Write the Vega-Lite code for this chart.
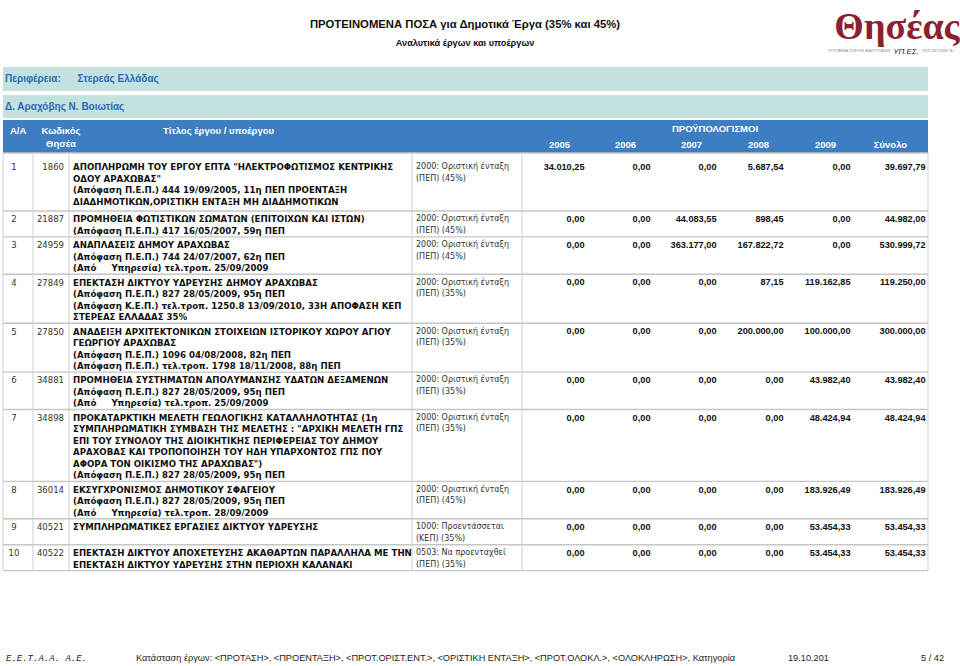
{
"$schema": "https://vega.github.io/schema/vega-lite/v6.json",
"width": 960, "height": 666, "padding": 0, "autosize": {"type": "none"},
"background": "#ffffff",
"config": {"view": {"stroke": null}, "locale": {"number": {"decimal": ",", "thousands": ".", "grouping": [3], "currency": ["", " €"]}}},
"datasets": {
 "bands": [
  {"band": "Περιφέρεια", "r": -5, "r2": -4},
  {"band": "Δήμος", "r": -3, "r2": -2},
  {"band": "Κεφαλίδα", "r": -1, "r2": 0}
 ],
 "bandText": [
  {"r": -5, "c": 0, "text": "Περιφέρεια:\u00a0\u00a0\u00a0\u00a0\u00a0\u00a0Στερεάς Ελλάδας"},
  {"r": -3, "c": 0, "text": "Δ. Αραχόβης Ν. Βοιωτίας"}
 ],
 "head": [
  {"r": -1, "c": 0, "text": "Α/Α"},
  {"r": -1, "c": 1, "text": "Κωδικός\nΘησέα"},
  {"r": -1, "c": 2, "text": "Τίτλος έργου / υποέργου"},
  {"r": -1, "c": 7, "text": "ΠΡΟΫΠΟΛΟΓΙΣΜΟΙ"},
  {"r": 0, "c": 4, "text": "2005"},
  {"r": 0, "c": 5, "text": "2006"},
  {"r": 0, "c": 6, "text": "2007"},
  {"r": 0, "c": 7, "text": "2008"},
  {"r": 0, "c": 8, "text": "2009"},
  {"r": 0, "c": 9, "text": "Σύνολο"}
 ],
 "cells": [
  {"r": 1, "c": 0, "text": "1"},
  {"r": 1, "c": 1, "text": "1860"},
  {"r": 1, "c": 2, "text": "ΑΠΟΠΛΗΡΩΜΗ ΤΟΥ ΕΡΓΟΥ ΕΠΤΑ \"ΗΛΕΚΤΡΟΦΩΤΙΣΜΟΣ ΚΕΝΤΡΙΚΗΣ\nΟΔΟΥ ΑΡΑΧΩΒΑΣ\"\n(Απόφαση Π.Ε.Π.) 444 19/09/2005, 11η ΠΕΠ ΠΡΟΕΝΤΑΞΗ\nΔΙΑΔΗΜΟΤΙΚΩΝ,ΟΡΙΣΤΙΚΗ ΕΝΤΑΞΗ ΜΗ ΔΙΑΔΗΜΟΤΙΚΩΝ"},
  {"r": 1, "c": 3, "text": "2000: Οριστική ένταξη\n(ΠΕΠ) (45%)"},
  {"r": 2, "c": 0, "text": "2"},
  {"r": 2, "c": 1, "text": "21887"},
  {"r": 2, "c": 2, "text": "ΠΡΟΜΗΘΕΙΑ ΦΩΤΙΣΤΙΚΩΝ ΣΩΜΑΤΩΝ (ΕΠΙΤΟΙΧΩΝ ΚΑΙ ΙΣΤΩΝ)\n(Απόφαση Π.Ε.Π.) 417 16/05/2007, 59η ΠΕΠ"},
  {"r": 2, "c": 3, "text": "2000: Οριστική ένταξη\n(ΠΕΠ) (45%)"},
  {"r": 3, "c": 0, "text": "3"},
  {"r": 3, "c": 1, "text": "24959"},
  {"r": 3, "c": 2, "text": "ΑΝΑΠΛΑΣΕΙΣ ΔΗΜΟΥ ΑΡΑΧΩΒΑΣ\n(Απόφαση Π.Ε.Π.) 744 24/07/2007, 62η ΠΕΠ\n(Από\u00a0\u00a0\u00a0\u00a0\u00a0Υπηρεσία) τελ.τροπ. 25/09/2009"},
  {"r": 3, "c": 3, "text": "2000: Οριστική ένταξη\n(ΠΕΠ) (45%)"},
  {"r": 4, "c": 0, "text": "4"},
  {"r": 4, "c": 1, "text": "27849"},
  {"r": 4, "c": 2, "text": "ΕΠΕΚΤΑΣΗ ΔΙΚΤΥΟΥ ΥΔΡΕΥΣΗΣ ΔΗΜΟΥ ΑΡΑΧΩΒΑΣ\n(Απόφαση Π.Ε.Π.) 827 28/05/2009, 95η ΠΕΠ\n(Απόφαση Κ.Ε.Π.) τελ.τροπ. 1250.8 13/09/2010, 33Η ΑΠΟΦΑΣΗ ΚΕΠ\nΣΤΕΡΕΑΣ ΕΛΛΑΔΑΣ 35%"},
  {"r": 4, "c": 3, "text": "2000: Οριστική ένταξη\n(ΠΕΠ) (35%)"},
  {"r": 5, "c": 0, "text": "5"},
  {"r": 5, "c": 1, "text": "27850"},
  {"r": 5, "c": 2, "text": "ΑΝΑΔΕΙΞΗ ΑΡΧΙΤΕΚΤΟΝΙΚΩΝ ΣΤΟΙΧΕΙΩΝ ΙΣΤΟΡΙΚΟΥ ΧΩΡΟΥ ΑΓΙΟΥ\nΓΕΩΡΓΙΟΥ ΑΡΑΧΩΒΑΣ\n(Απόφαση Π.Ε.Π.) 1096 04/08/2008, 82η ΠΕΠ\n(Απόφαση Π.Ε.Π.) τελ.τροπ. 1798 18/11/2008, 88η ΠΕΠ"},
  {"r": 5, "c": 3, "text": "2000: Οριστική ένταξη\n(ΠΕΠ) (35%)"},
  {"r": 6, "c": 0, "text": "6"},
  {"r": 6, "c": 1, "text": "34881"},
  {"r": 6, "c": 2, "text": "ΠΡΟΜΗΘΕΙΑ ΣΥΣΤΗΜΑΤΩΝ ΑΠΟΛΥΜΑΝΣΗΣ ΥΔΑΤΩΝ ΔΕΞΑΜΕΝΩΝ\n(Απόφαση Π.Ε.Π.) 827 28/05/2009, 95η ΠΕΠ\n(Από\u00a0\u00a0\u00a0\u00a0\u00a0Υπηρεσία) τελ.τροπ. 25/09/2009"},
  {"r": 6, "c": 3, "text": "2000: Οριστική ένταξη\n(ΠΕΠ) (35%)"},
  {"r": 7, "c": 0, "text": "7"},
  {"r": 7, "c": 1, "text": "34898"},
  {"r": 7, "c": 2, "text": "ΠΡΟΚΑΤΑΡΚΤΙΚΗ ΜΕΛΕΤΗ ΓΕΩΛΟΓΙΚΗΣ ΚΑΤΑΛΛΗΛΟΤΗΤΑΣ (1η\nΣΥΜΠΛΗΡΩΜΑΤΙΚΗ ΣΥΜΒΑΣΗ ΤΗΣ ΜΕΛΕΤΗΣ : \"ΑΡΧΙΚΗ ΜΕΛΕΤΗ ΓΠΣ\nΕΠΙ ΤΟΥ ΣΥΝΟΛΟΥ ΤΗΣ ΔΙΟΙΚΗΤΙΚΗΣ ΠΕΡΙΦΕΡΕΙΑΣ ΤΟΥ ΔΗΜΟΥ\nΑΡΑΧΟΒΑΣ ΚΑΙ ΤΡΟΠΟΠΟΙΗΣΗ ΤΟΥ ΗΔΗ ΥΠΑΡΧΟΝΤΟΣ ΓΠΣ ΠΟΥ\nΑΦΟΡΑ ΤΟΝ ΟΙΚΙΣΜΟ ΤΗΣ ΑΡΑΧΩΒΑΣ\")\n(Απόφαση Π.Ε.Π.) 827 28/05/2009, 95η ΠΕΠ"},
  {"r": 7, "c": 3, "text": "2000: Οριστική ένταξη\n(ΠΕΠ) (35%)"},
  {"r": 8, "c": 0, "text": "8"},
  {"r": 8, "c": 1, "text": "36014"},
  {"r": 8, "c": 2, "text": "ΕΚΣΥΓΧΡΟΝΙΣΜΟΣ ΔΗΜΟΤΙΚΟΥ ΣΦΑΓΕΙΟΥ\n(Απόφαση Π.Ε.Π.) 827 28/05/2009, 95η ΠΕΠ\n(Από\u00a0\u00a0\u00a0\u00a0\u00a0Υπηρεσία) τελ.τροπ. 28/09/2009"},
  {"r": 8, "c": 3, "text": "2000: Οριστική ένταξη\n(ΠΕΠ) (45%)"},
  {"r": 9, "c": 0, "text": "9"},
  {"r": 9, "c": 1, "text": "40521"},
  {"r": 9, "c": 2, "text": "ΣΥΜΠΛΗΡΩΜΑΤΙΚΕΣ ΕΡΓΑΣΙΕΣ ΔΙΚΤΥΟΥ ΥΔΡΕΥΣΗΣ"},
  {"r": 9, "c": 3, "text": "1000: Προεντάσσεται\n(ΚΕΠ) (35%)"},
  {"r": 10, "c": 0, "text": "10"},
  {"r": 10, "c": 1, "text": "40522"},
  {"r": 10, "c": 2, "text": "\u00a0ΕΠΕΚΤΑΣΗ ΔΙΚΤΥΟΥ ΑΠΟΧΕΤΕΥΣΗΣ ΑΚΑΘΑΡΤΩΝ ΠΑΡΑΛΛΗΛΑ ΜΕ ΤΗΝ\nΕΠΕΚΤΑΣΗ ΔΙΚΤΥΟΥ ΥΔΡΕΥΣΗΣ ΣΤΗΝ ΠΕΡΙΟΧΗ ΚΑΛΑΝΑΚΙ"},
  {"r": 10, "c": 3, "text": "0503: Να προενταχθεί\n(ΠΕΠ) (35%)"}
 ],
 "amounts": [
  {"r": 1, "c": 4, "year": "2005", "v": 34010.25}, {"r": 1, "c": 5, "year": "2006", "v": 0}, {"r": 1, "c": 6, "year": "2007", "v": 0}, {"r": 1, "c": 7, "year": "2008", "v": 5687.54}, {"r": 1, "c": 8, "year": "2009", "v": 0}, {"r": 1, "c": 9, "year": "Σύνολο", "v": 39697.79},
  {"r": 2, "c": 4, "year": "2005", "v": 0}, {"r": 2, "c": 5, "year": "2006", "v": 0}, {"r": 2, "c": 6, "year": "2007", "v": 44083.55}, {"r": 2, "c": 7, "year": "2008", "v": 898.45}, {"r": 2, "c": 8, "year": "2009", "v": 0}, {"r": 2, "c": 9, "year": "Σύνολο", "v": 44982.00},
  {"r": 3, "c": 4, "year": "2005", "v": 0}, {"r": 3, "c": 5, "year": "2006", "v": 0}, {"r": 3, "c": 6, "year": "2007", "v": 363177.00}, {"r": 3, "c": 7, "year": "2008", "v": 167822.72}, {"r": 3, "c": 8, "year": "2009", "v": 0}, {"r": 3, "c": 9, "year": "Σύνολο", "v": 530999.72},
  {"r": 4, "c": 4, "year": "2005", "v": 0}, {"r": 4, "c": 5, "year": "2006", "v": 0}, {"r": 4, "c": 6, "year": "2007", "v": 0}, {"r": 4, "c": 7, "year": "2008", "v": 87.15}, {"r": 4, "c": 8, "year": "2009", "v": 119162.85}, {"r": 4, "c": 9, "year": "Σύνολο", "v": 119250.00},
  {"r": 5, "c": 4, "year": "2005", "v": 0}, {"r": 5, "c": 5, "year": "2006", "v": 0}, {"r": 5, "c": 6, "year": "2007", "v": 0}, {"r": 5, "c": 7, "year": "2008", "v": 200000.00}, {"r": 5, "c": 8, "year": "2009", "v": 100000.00}, {"r": 5, "c": 9, "year": "Σύνολο", "v": 300000.00},
  {"r": 6, "c": 4, "year": "2005", "v": 0}, {"r": 6, "c": 5, "year": "2006", "v": 0}, {"r": 6, "c": 6, "year": "2007", "v": 0}, {"r": 6, "c": 7, "year": "2008", "v": 0}, {"r": 6, "c": 8, "year": "2009", "v": 43982.40}, {"r": 6, "c": 9, "year": "Σύνολο", "v": 43982.40},
  {"r": 7, "c": 4, "year": "2005", "v": 0}, {"r": 7, "c": 5, "year": "2006", "v": 0}, {"r": 7, "c": 6, "year": "2007", "v": 0}, {"r": 7, "c": 7, "year": "2008", "v": 0}, {"r": 7, "c": 8, "year": "2009", "v": 48424.94}, {"r": 7, "c": 9, "year": "Σύνολο", "v": 48424.94},
  {"r": 8, "c": 4, "year": "2005", "v": 0}, {"r": 8, "c": 5, "year": "2006", "v": 0}, {"r": 8, "c": 6, "year": "2007", "v": 0}, {"r": 8, "c": 7, "year": "2008", "v": 0}, {"r": 8, "c": 8, "year": "2009", "v": 183926.49}, {"r": 8, "c": 9, "year": "Σύνολο", "v": 183926.49},
  {"r": 9, "c": 4, "year": "2005", "v": 0}, {"r": 9, "c": 5, "year": "2006", "v": 0}, {"r": 9, "c": 6, "year": "2007", "v": 0}, {"r": 9, "c": 7, "year": "2008", "v": 0}, {"r": 9, "c": 8, "year": "2009", "v": 53454.33}, {"r": 9, "c": 9, "year": "Σύνολο", "v": 53454.33},
  {"r": 10, "c": 4, "year": "2005", "v": 0}, {"r": 10, "c": 5, "year": "2006", "v": 0}, {"r": 10, "c": 6, "year": "2007", "v": 0}, {"r": 10, "c": 7, "year": "2008", "v": 0}, {"r": 10, "c": 8, "year": "2009", "v": 53454.33}, {"r": 10, "c": 9, "year": "Σύνολο", "v": 53454.33}
 ],
 "titles": [
  {"r": -7, "kind": "title", "text": "ΠΡΟΤΕΙΝΟΜΕΝΑ ΠΟΣΑ για Δημοτικά Έργα (35% και 45%)"},
  {"r": -6, "kind": "subtitle", "text": "Αναλυτικά έργων και υποέργων"}
 ],
 "logo": [
  {"r": -7, "c": 9, "kind": "name", "text": "Θησέας"},
  {"r": -6, "c": 9, "kind": "microLeft", "text": "ΠΡΟΓΡΑΜΜΑ ΣΤΗΡΙΞΗΣ ΑΝΑΠΤΥΞΙΑΚΩΝ"},
  {"r": -6, "c": 9, "kind": "microRight", "text": "ΠΡΩΤΟΒΟΥΛΙΩΝ Τ.Α."},
  {"r": -6, "c": 9, "kind": "ministry", "text": "ΥΠ.ΕΣ."}
 ],
 "footer": [
  {"r": 12, "c": 0, "kind": "org", "text": "Ε.Ε.Τ.Α.Α. Α.Ε."},
  {"r": 12, "c": 2, "kind": "status", "text": "Κατάσταση έργων: <ΠΡΟΤΑΣΗ>, <ΠΡΟΕΝΤΑΞΗ>, <ΠΡΟΤ.ΟΡΙΣΤ.ΕΝΤ.>, <ΟΡΙΣΤΙΚΗ ΕΝΤΑΞΗ>, <ΠΡΟΤ.ΟΛΟΚΛ.>, <ΟΛΟΚΛΗΡΩΣΗ>, Κατηγορία"},
  {"r": 12, "c": 8, "kind": "date", "text": "19.10.201"},
  {"r": 12, "c": 10, "kind": "page", "text": "5 / 42"}
 ]
},
"layer": [
 {"data": {"name": "bands"}, "mark": {"type": "rect"},
  "encoding": {
   "x": {"datum": 0, "type": "quantitative", "scale": {"domain": [0,1,2,3,4,5,6,7,8,9,10], "range": [3,33,69,412,522,588,654,721,788,853,928], "zero": false, "nice": false}, "axis": null},
   "x2": {"datum": 10},
   "y": {"field": "r", "type": "quantitative", "scale": {"domain": [-7,-6,-5,-4,-3,-2,-1,0,1,2,3,4,5,6,7,8,9,10,11,12], "range": [25,43,67,91,95,118,120,153,159,211,236.9,274.3,323.2,372.1,409.5,481.4,518.8,544.7,570.6,658], "zero": false, "nice": false}, "axis": null},
   "y2": {"field": "r2"},
   "color": {"field": "band", "type": "nominal", "scale": {"domain": ["Περιφέρεια", "Δήμος", "Κεφαλίδα"], "range": ["#c2e1df", "#c2e1df", "#3d7ec3"]}, "legend": null}
  }},
 {"data": {"name": "cells"}, "transform": [{"filter": "datum.c == 0 && datum.r >= 2"}],
  "mark": {"type": "rule", "color": "#c6c6c6", "strokeWidth": 1.4},
  "encoding": {"x": {"datum": 0, "type": "quantitative"}, "x2": {"datum": 10}, "y": {"field": "r", "type": "quantitative"}}},
 {"data": {"values": [{}]}, "mark": {"type": "rule", "color": "#c6c6c6", "strokeWidth": 1.4},
  "encoding": {"x": {"datum": 0, "type": "quantitative"}, "x2": {"datum": 10}, "y": {"datum": 0, "type": "quantitative"}}},
 {"data": {"values": [{}]}, "mark": {"type": "rule", "color": "#c6c6c6", "strokeWidth": 1.4},
  "encoding": {"x": {"datum": 0, "type": "quantitative"}, "x2": {"datum": 10}, "y": {"datum": 11, "type": "quantitative"}}},
 {"data": {"name": "cells"}, "transform": [{"filter": "datum.r == 1"}],
  "mark": {"type": "rule", "color": "#cfcfcf", "strokeWidth": 1},
  "encoding": {"x": {"field": "c", "type": "quantitative"}, "y": {"datum": 0, "type": "quantitative"}, "y2": {"datum": 11}}},
 {"data": {"values": [{}]}, "mark": {"type": "rule", "color": "#cfcfcf", "strokeWidth": 1},
  "encoding": {"x": {"datum": 10, "type": "quantitative"}, "y": {"datum": 0, "type": "quantitative"}, "y2": {"datum": 11}}},
 {"data": {"values": [{}]}, "mark": {"type": "rule", "color": "#cfcfcf", "strokeWidth": 1},
  "encoding": {"x": {"datum": 4, "type": "quantitative"}, "y": {"datum": 0, "type": "quantitative"}, "y2": {"datum": 11}}},

 {"data": {"name": "bandText"}, "mark": {"type": "text", "align": "left", "baseline": "middle", "dx": 2, "dy": 12, "font": "Liberation Sans", "fontWeight": "bold", "fontSize": 10, "color": "#2c6bb0"},
  "encoding": {"x": {"field": "c", "type": "quantitative"}, "y": {"field": "r", "type": "quantitative"}, "text": {"field": "text"}}},

 {"data": {"name": "head"}, "transform": [{"filter": "datum.r == -1 && datum.c == 0"}],
  "mark": {"type": "text", "align": "left", "baseline": "middle", "dx": 7, "dy": 10.5, "font": "Liberation Sans", "fontWeight": "bold", "fontSize": 9.5, "color": "#ffffff"},
  "encoding": {"x": {"field": "c", "type": "quantitative"}, "y": {"field": "r", "type": "quantitative"}, "text": {"field": "text"}}},
 {"data": {"name": "head"}, "transform": [{"filter": "datum.r == -1 && datum.c == 1"}],
  "mark": {"type": "text", "align": "center", "baseline": "top", "lineBreak": "\n", "lineHeight": 12.6, "dx": 28, "dy": 6.4, "font": "Liberation Sans", "fontWeight": "bold", "fontSize": 9.5, "color": "#ffffff"},
  "encoding": {"x": {"field": "c", "type": "quantitative"}, "y": {"field": "r", "type": "quantitative"}, "text": {"field": "text"}}},
 {"data": {"name": "head"}, "transform": [{"filter": "datum.r == -1 && datum.c == 2"}],
  "mark": {"type": "text", "align": "left", "baseline": "middle", "dx": 94, "dy": 10.5, "font": "Liberation Sans", "fontWeight": "bold", "fontSize": 9.5, "color": "#ffffff"},
  "encoding": {"x": {"field": "c", "type": "quantitative"}, "y": {"field": "r", "type": "quantitative"}, "text": {"field": "text"}}},
 {"data": {"name": "head"}, "transform": [{"filter": "datum.r == -1 && datum.c == 7"}],
  "mark": {"type": "text", "align": "center", "baseline": "middle", "dx": -6, "dy": 8.5, "font": "Liberation Sans", "fontWeight": "bold", "fontSize": 9.5, "color": "#ffffff"},
  "encoding": {"x": {"field": "c", "type": "quantitative"}, "y": {"field": "r", "type": "quantitative"}, "text": {"field": "text"}}},
 {"data": {"name": "head"}, "transform": [{"filter": "datum.r == 0"}],
  "mark": {"type": "text", "align": "center", "baseline": "middle", "dx": 37.5, "dy": -8.5, "font": "Liberation Sans", "fontWeight": "bold", "fontSize": 9.5, "color": "#ffffff"},
  "encoding": {"x": {"field": "c", "type": "quantitative"}, "y": {"field": "r", "type": "quantitative"}, "text": {"field": "text"}}},

 {"data": {"name": "cells"}, "transform": [{"filter": "datum.c == 0"}],
  "mark": {"type": "text", "align": "center", "baseline": "top", "dx": 11, "dy": 4.3, "font": "DejaVu Sans", "fontSize": 8.5, "color": "#333333"},
  "encoding": {"x": {"field": "c", "type": "quantitative"}, "y": {"field": "r", "type": "quantitative"}, "text": {"field": "text"}}},
 {"data": {"name": "cells"}, "transform": [{"filter": "datum.c == 1"}],
  "mark": {"type": "text", "align": "right", "baseline": "top", "dx": 31, "dy": 4.3, "font": "DejaVu Sans", "fontSize": 8.5, "color": "#333333"},
  "encoding": {"x": {"field": "c", "type": "quantitative"}, "y": {"field": "r", "type": "quantitative"}, "text": {"field": "text"}}},
 {"data": {"name": "cells"}, "transform": [{"filter": "datum.c == 2"}],
  "mark": {"type": "text", "align": "left", "baseline": "top", "lineBreak": "\n", "lineHeight": 11.5, "dx": 4, "dy": 4.3, "font": "DejaVu Sans", "fontWeight": "bold", "fontSize": 8.65, "color": "#111111"},
  "encoding": {"x": {"field": "c", "type": "quantitative"}, "y": {"field": "r", "type": "quantitative"}, "text": {"field": "text"}}},
 {"data": {"name": "cells"}, "transform": [{"filter": "datum.c == 3"}],
  "mark": {"type": "text", "align": "left", "baseline": "top", "lineBreak": "\n", "lineHeight": 11.5, "dx": 4, "dy": 4.3, "font": "DejaVu Sans", "fontSize": 8, "color": "#333333"},
  "encoding": {"x": {"field": "c", "type": "quantitative"}, "y": {"field": "r", "type": "quantitative"}, "text": {"field": "text"}}},
 {"data": {"name": "amounts"}, "transform": [{"filter": "datum.c <= 8"}],
  "mark": {"type": "text", "align": "right", "baseline": "top", "dx": 62.5, "dy": 4.1, "font": "Liberation Sans", "fontWeight": "bold", "fontSize": 9.2, "color": "#111111"},
  "encoding": {"x": {"field": "c", "type": "quantitative"}, "y": {"field": "r", "type": "quantitative"}, "text": {"field": "v", "type": "quantitative", "format": ",.2f"}}},
 {"data": {"name": "amounts"}, "transform": [{"filter": "datum.c == 9"}],
  "mark": {"type": "text", "align": "right", "baseline": "top", "dx": 72.5, "dy": 4.1, "font": "Liberation Sans", "fontWeight": "bold", "fontSize": 9.2, "color": "#111111"},
  "encoding": {"x": {"field": "c", "type": "quantitative"}, "y": {"field": "r", "type": "quantitative"}, "text": {"field": "v", "type": "quantitative", "format": ",.2f"}}},

 {"data": {"name": "titles"}, "transform": [{"filter": "datum.kind == 'title'"}],
  "mark": {"type": "text", "align": "center", "baseline": "middle", "dx": -15, "font": "Liberation Sans", "fontWeight": "bold", "fontSize": 11.3, "color": "#111111"},
  "encoding": {"y": {"field": "r", "type": "quantitative"}, "text": {"field": "text"}}},
 {"data": {"name": "titles"}, "transform": [{"filter": "datum.kind == 'subtitle'"}],
  "mark": {"type": "text", "align": "center", "baseline": "middle", "dx": -15, "font": "Liberation Sans", "fontWeight": "bold", "fontSize": 9.2, "color": "#111111"},
  "encoding": {"y": {"field": "r", "type": "quantitative"}, "text": {"field": "text"}}},

 {"data": {"name": "logo"}, "transform": [{"filter": "datum.kind == 'name'"}],
  "mark": {"type": "text", "align": "center", "baseline": "middle", "dx": 44, "dy": 3, "font": "Liberation Serif", "fontWeight": "bold", "fontSize": 38, "color": "#8c1f31"},
  "encoding": {"x": {"field": "c", "type": "quantitative"}, "y": {"field": "r", "type": "quantitative"}, "text": {"field": "text"}}},
 {"data": {"name": "logo"}, "transform": [{"filter": "datum.kind == 'microLeft'"}],
  "mark": {"type": "text", "align": "right", "baseline": "middle", "dx": 37, "dy": 8, "font": "Liberation Sans", "fontSize": 3.2, "color": "#8a8a8a"},
  "encoding": {"x": {"field": "c", "type": "quantitative"}, "y": {"field": "r", "type": "quantitative"}, "text": {"field": "text"}}},
 {"data": {"name": "logo"}, "transform": [{"filter": "datum.kind == 'microRight'"}],
  "mark": {"type": "text", "align": "left", "baseline": "middle", "dx": 69, "dy": 8, "font": "Liberation Sans", "fontSize": 3.2, "color": "#8a8a8a"},
  "encoding": {"x": {"field": "c", "type": "quantitative"}, "y": {"field": "r", "type": "quantitative"}, "text": {"field": "text"}}},
 {"data": {"name": "logo"}, "transform": [{"filter": "datum.kind == 'ministry'"}],
  "mark": {"type": "text", "align": "center", "baseline": "middle", "dx": 53, "dy": 9, "font": "Liberation Sans", "fontStyle": "italic", "fontSize": 8, "color": "#222222"},
  "encoding": {"x": {"field": "c", "type": "quantitative"}, "y": {"field": "r", "type": "quantitative"}, "text": {"field": "text"}}},

 {"data": {"name": "footer"}, "transform": [{"filter": "datum.kind == 'org'"}],
  "mark": {"type": "text", "align": "left", "baseline": "middle", "dx": 3, "font": "Liberation Mono", "fontStyle": "italic", "fontSize": 9, "color": "#222222"},
  "encoding": {"x": {"field": "c", "type": "quantitative"}, "y": {"field": "r", "type": "quantitative"}, "text": {"field": "text"}}},
 {"data": {"name": "footer"}, "transform": [{"filter": "datum.kind == 'status'"}],
  "mark": {"type": "text", "align": "left", "baseline": "middle", "dx": 67, "font": "Liberation Sans", "fontSize": 9.2, "color": "#222222"},
  "encoding": {"x": {"field": "c", "type": "quantitative"}, "y": {"field": "r", "type": "quantitative"}, "text": {"field": "text"}}},
 {"data": {"name": "footer"}, "transform": [{"filter": "datum.kind == 'date'"}],
  "mark": {"type": "text", "align": "left", "baseline": "middle", "dx": 0, "font": "Liberation Sans", "fontSize": 9.2, "color": "#222222"},
  "encoding": {"x": {"field": "c", "type": "quantitative"}, "y": {"field": "r", "type": "quantitative"}, "text": {"field": "text"}}},
 {"data": {"name": "footer"}, "transform": [{"filter": "datum.kind == 'page'"}],
  "mark": {"type": "text", "align": "left", "baseline": "middle", "dx": -7, "font": "Liberation Sans", "fontSize": 9.2, "color": "#222222"},
  "encoding": {"x": {"field": "c", "type": "quantitative"}, "y": {"field": "r", "type": "quantitative"}, "text": {"field": "text"}}}
]
}
